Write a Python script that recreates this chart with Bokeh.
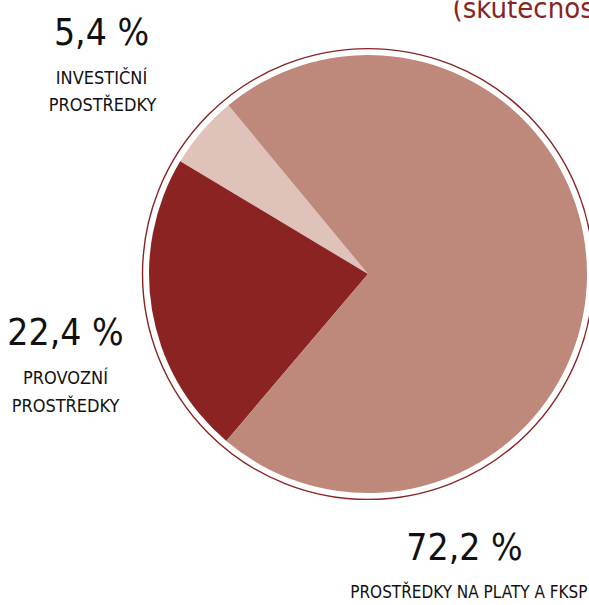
import numpy as np
from bokeh.plotting import figure
from bokeh.models import Range1d, ColumnDataSource
from bokeh.core.properties import value
from bokeh.embed import file_html
from bokeh.resources import INLINE

# data
categories = ["INVESTIČNÍ PROSTŘEDKY", "PROVOZNÍ PROSTŘEDKY", "PROSTŘEDKY NA PLATY A FKSP"]
shares = [5.4, 22.4, 72.2]
pct_labels = ["5,4 %", "22,4 %", "72,2 %"]
colors = ["#DFC2BA", "#8A2322", "#BE887B"]
title_text = "(skutečnost)"

W, H = 589, 605
FONT = "DejaVu Sans Condensed"

p = figure(width=W, height=H, output_backend="svg", toolbar_location=None,
           x_range=Range1d(0, W), y_range=Range1d(0, H), min_border=0)
p.axis.visible = False
p.grid.visible = False
p.outline_line_color = None
p.background_fill_color = "white"

cx, cy, r = 367.5, 331.5, 219
start_deg = 129.6
frac = np.array(shares) / sum(shares)
ends = np.radians(start_deg) + np.cumsum(frac) * 2 * np.pi
starts = np.concatenate([[np.radians(start_deg)], ends[:-1]])
src = ColumnDataSource(dict(start=starts, end=ends, color=colors))
p.wedge(x=cx, y=cy, radius=r, start_angle="start", end_angle="end",
        fill_color="color", line_color=None, source=src)
p.circle(x=cx, y=cy, radius=225.5, fill_color=None, line_color="#8A2322", line_width=1.4)

# percent labels
pct_pos = [(101, 573), (65, 273), (464, 58)]
for (x, y), t in zip(pct_pos, pct_labels):
    p.text(x=[x], y=[y], text=[t], text_align="center", text_baseline="middle",
           text_font=value(FONT), text_font_size="37px", text_color="#111111")

cat_lines = [
    [("INVESTIČNÍ", 101, 528), ("PROSTŘEDKY", 102, 501)],
    [("PROVOZNÍ", 65, 228), ("PROSTŘEDKY", 65, 200)],
]
for lines in cat_lines:
    for t, x, y in lines:
        p.text(x=[x], y=[y], text=[t], text_align="center", text_baseline="middle",
               text_font=value(FONT), text_font_size="18px", text_color="#111111")
p.text(x=[587], y=[14], text=[categories[2]], text_align="right", text_baseline="middle",
       text_font=value(FONT), text_font_size="17px", text_color="#111111")

p.text(x=[452], y=[598], text=[title_text], text_align="left", text_baseline="middle",
       text_font=value(FONT), text_font_size="29px", text_color="#8A2322")

open("out.html", "w").write(file_html(p, INLINE))
